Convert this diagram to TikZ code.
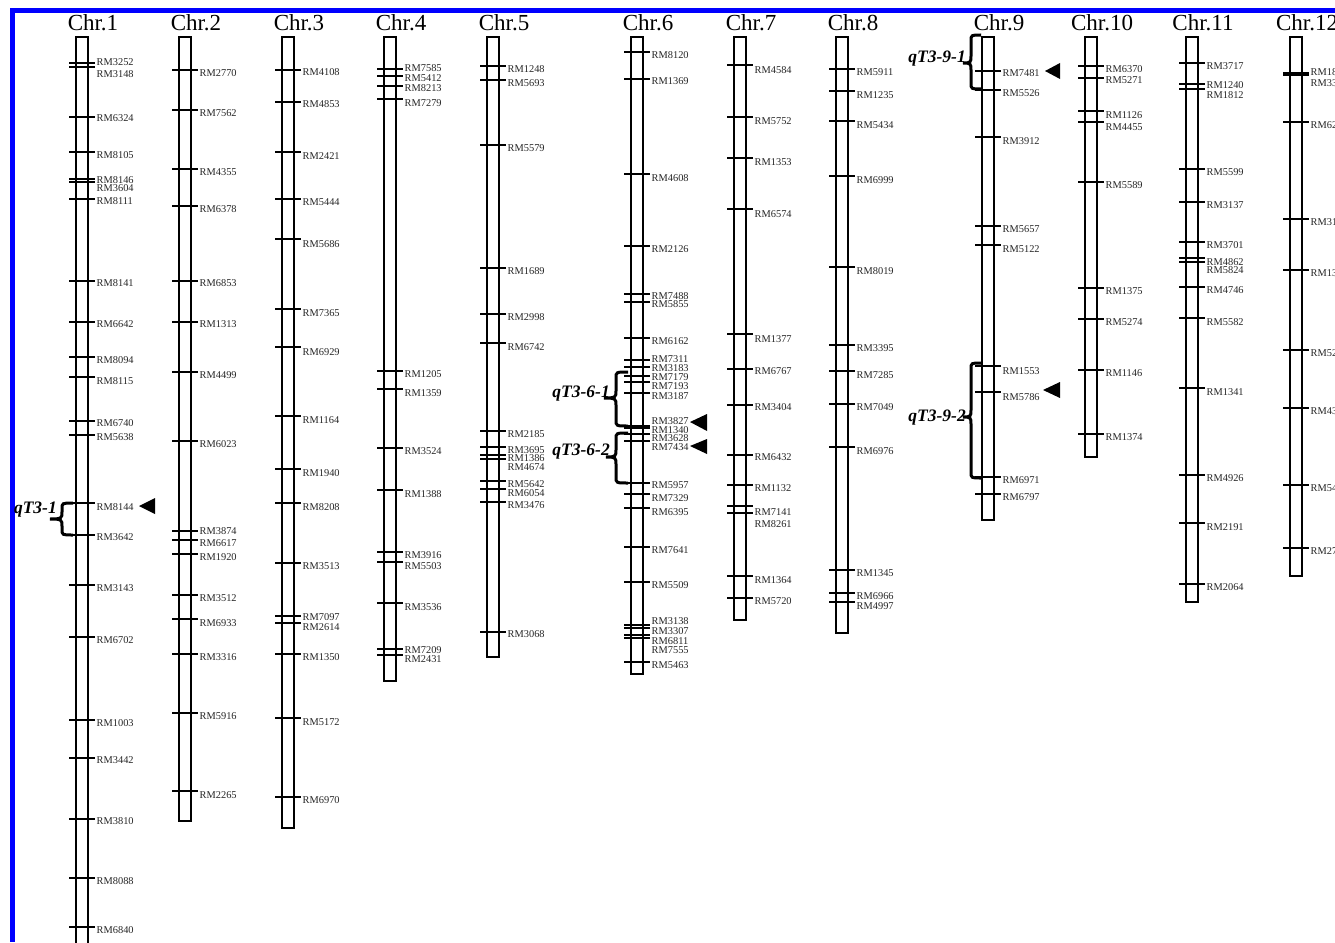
\documentclass[tikz,border=0pt]{standalone}
\usepackage{fontspec}
\setmainfont{Liberation Serif}
\tikzset{
  chrbar/.style={draw=black, line width=1.3pt, fill=white},
  tickline/.style={draw=black, line width=1.1pt},
  lbl/.style={anchor=west, inner sep=0pt, text=black!85, font=\fontsize{10.4}{10.4}\selectfont},
  ttl/.style={anchor=base, inner sep=0pt, font=\fontsize{23}{23}\selectfont},
  qlbl/.style={anchor=base east, inner sep=0pt, font=\fontsize{17.5}{17.5}\selectfont\bfseries\itshape},
  qbr/.style={draw=black, line width=3pt},
  mark tri/.style={fill=black}
}
\newcommand\chrom[4]{% name, xleft, ybottom, title
  \draw[chrbar] (#2,37) rectangle (#2+12,#3);
  \node[ttl] (#1) at (#2+17,31) {#4};}
\newcommand\markers[2]{%
  \foreach \t/\l/\n in {#2} {%
    \draw[tickline] (#1-7,\t) -- (#1+19,\t);
    \node[lbl] at (#1+20.5,\l) {\n};}}
\newcommand\qbrace[6]{% xe xv xt y1 y2 ym
  \draw[qbr] (#1,#4) .. controls (#2,#4) and (#2,#4) .. (#2,#4+6) -- (#2,#6-7)
    .. controls (#2,#6-1) and (#2,#6) .. (#3,#6)
    .. controls (#2,#6) and (#2,#6+1) .. (#2,#6+7) -- (#2,#5-6)
    .. controls (#2,#5) and (#2,#5) .. (#1,#5);}
\begin{document}
\begin{tikzpicture}[x=1pt,y=-1pt]
\useasboundingbox (0,0) rectangle (1335,942);
\clip (0,0) rectangle (1335,942);
\fill[white] (0,0) rectangle (1335,942);
\fill[blue] (10,8) rectangle (1335,13);
\fill[blue] (10,8) rectangle (15,942);

% Chr.1
\chrom{c1}{76}{960}{Chr.1}
\markers{76}{63/62/RM3252, 67/74/RM3148, 117/118/RM6324, 152/155/RM8105, 179/180/RM8146, 182/188/RM3604, 199/201/RM8111, 281/283/RM8141, 322/324/RM6642, 357/360/RM8094, 377/381/RM8115, 421/423/RM6740, 435/437/RM5638, 503/507/RM8144, 535/537/RM3642, 585/588/RM3143, 637/640/RM6702, 720/723/RM1003, 758/760/RM3442, 819/821/RM3810, 878/881/RM8088, 927/930/RM6840}

% Chr.2
\chrom{c2}{179}{821}{Chr.2}
\markers{179}{70/73/RM2770, 110/113/RM7562, 169/172/RM4355, 206/209/RM6378, 281/283/RM6853, 322/324/RM1313, 372/375/RM4499, 441/444/RM6023, 531/531/RM3874, 540/543/RM6617, 554/557/RM1920, 595/598/RM3512, 619/623/RM6933, 654/657/RM3316, 713/716/RM5916, 791/795/RM2265}

% Chr.3
\chrom{c3}{282}{828}{Chr.3}
\markers{282}{70/72/RM4108, 102/104/RM4853, 152/156/RM2421, 199/202/RM5444, 239/244/RM5686, 309/313/RM7365, 347/352/RM6929, 416/420/RM1164, 469/473/RM1940, 503/507/RM8208, 563/566/RM3513, 616/617/RM7097, 623/627/RM2614, 654/657/RM1350, 718/722/RM5172, 797/800/RM6970}

% Chr.4
\chrom{c4}{384}{681}{Chr.4}
\markers{384}{69/68/RM7585, 76/78/RM5412, 86/88/RM8213, 99/103/RM7279, 371/374/RM1205, 389/393/RM1359, 448/451/RM3524, 490/494/RM1388, 552/555/RM3916, 562/566/RM5503, 603/607/RM3536, 649/650/RM7209, 655/659/RM2431}

% Chr.5
\chrom{c5}{487}{657}{Chr.5}
\markers{487}{66/69/RM1248, 80/83/RM5693, 145/148/RM5579, 268/271/RM1689, 314/317/RM2998, 343/347/RM6742, 431/434/RM2185, 447/450/RM3695, 455/458/RM1386, 459/467/RM4674, 481/484/RM5642, 489/493/RM6054, 502/505/RM3476, 632/634/RM3068}

% Chr.6
\chrom{c6}{631}{674}{Chr.6}
\markers{631}{52/55/RM8120, 79/81/RM1369, 174/178/RM4608, 246/249/RM2126, 294/296/RM7488, 302/304/RM5855, 338/341/RM6162, 360/359/RM7311, 367/368/RM3183, 376/377/RM7179, 382/386/RM7193, 393/396/RM3187, 426/421/RM3827, 428/430/RM1340, 434/438/RM3628, 441/447/RM7434, 483/485/RM5957, 494/498/RM7329, 508/512/RM6395, 547/550/RM7641, 582/585/RM5509, 625/621/RM3138, 628/631/RM3307, 635/641/RM6811, 638/650/RM7555, 662/665/RM5463}

% Chr.7
\chrom{c7}{734}{620}{Chr.7}
\markers{734}{65/70/RM4584, 117/121/RM5752, 158/162/RM1353, 209/214/RM6574, 334/339/RM1377, 369/371/RM6767, 405/407/RM3404, 455/457/RM6432, 485/488/RM1132, 506/512/RM7141, 513/524/RM8261, 576/580/RM1364, 598/601/RM5720}

% Chr.8
\chrom{c8}{836}{633}{Chr.8}
\markers{836}{69/72/RM5911, 91/95/RM1235, 121/125/RM5434, 176/180/RM6999, 267/271/RM8019, 345/348/RM3395, 371/375/RM7285, 404/407/RM7049, 447/451/RM6976, 570/573/RM1345, 593/596/RM6966, 602/606/RM4997}

% Chr.9
\chrom{c9}{982}{520}{Chr.9}
\markers{982}{71/73/RM7481, 90/93/RM5526, 137/141/RM3912, 226/229/RM5657, 245/249/RM5122, 366/371/RM1553, 392/397/RM5786, 477/480/RM6971, 494/497/RM6797}

% Chr.10
\chrom{c10}{1085}{457}{Chr.10}
\markers{1085}{66/69/RM6370, 78/80/RM5271, 111/115/RM1126, 122/127/RM4455, 182/185/RM5589, 288/291/RM1375, 319/322/RM5274, 370/373/RM1146, 434/437/RM1374}

% Chr.11
\chrom{c11}{1186}{602}{Chr.11}
\markers{1186}{63/66/RM3717, 84/85/RM1240, 89/95/RM1812, 169/172/RM5599, 202/205/RM3137, 242/245/RM3701, 258/262/RM4862, 262/270/RM5824, 287/290/RM4746, 318/322/RM5582, 388/392/RM1341, 475/478/RM4926, 523/527/RM2191, 584/587/RM2064}

% Chr.12 (cut by the right edge)
\chrom{c12}{1290}{576}{Chr.12}
\markers{1290}{73/72/RM18, 75/83/RM33, 122/125/RM62, 219/222/RM31, 270/273/RM13, 350/353/RM52, 408/411/RM43, 485/488/RM54, 548/551/RM27}

% QTL braces and labels
\qbrace{73}{62}{50}{503}{535}{519}
\node[qlbl] (q1) at (57,513) {qT3-1};
\qbrace{628}{616}{604}{372}{426}{398}
\node[qlbl] (q61) at (610,397) {qT3-6-1};
\qbrace{628}{616}{606}{433}{483}{457}
\node[qlbl] (q62) at (610,455) {qT3-6-2};
\qbrace{981}{971}{963}{35}{89}{63}
\node[qlbl] (q91) at (966,63) {qT3-9-1};
\qbrace{981}{971}{963}{363}{478}{417}
\node[qlbl] (q92) at (966,421) {qT3-9-2};

% arrowheads
\fill[mark tri] (139,506) -- (155,498) -- (155,514) -- cycle;
\fill[mark tri] (690,422) -- (707,414) -- (707,431) -- cycle;
\fill[mark tri] (690,446) -- (707,439) -- (707,454) -- cycle;
\fill[mark tri] (1045,71) -- (1060,63) -- (1060,79) -- cycle;
\fill[mark tri] (1043,390) -- (1060,382) -- (1060,398) -- cycle;
\end{tikzpicture}
\end{document}
